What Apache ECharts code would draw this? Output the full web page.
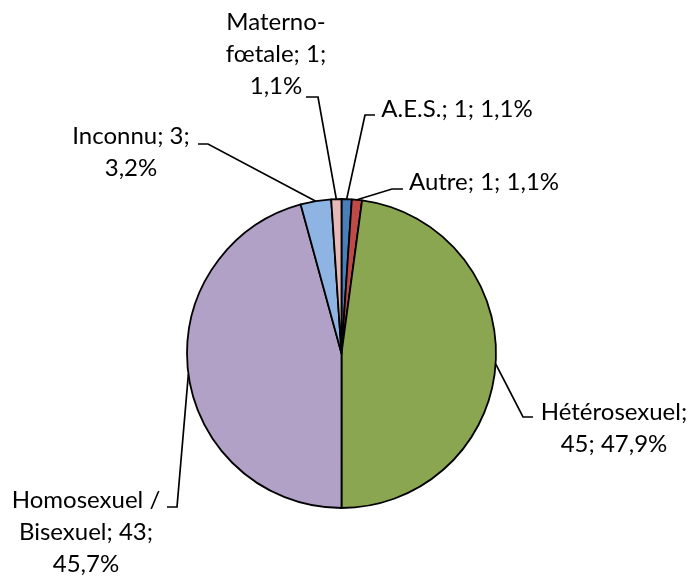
<!DOCTYPE html>
<html>
<head>
<meta charset="utf-8">
<script src="https://cdn.jsdelivr.net/npm/echarts@6/dist/echarts.min.js"></script>
<style>
html, body { margin: 0; padding: 0; background: #ffffff; }
#chart { width: 691px; height: 580px; }
</style>
</head>
<body>
<div id="chart"></div>
<script>
// ---- data ----
const categories = ['A.E.S.', 'Autre', 'Hétérosexuel', 'Homosexuel / Bisexuel', 'Inconnu', 'Materno-fœtale'];
const values = [1, 1, 45, 43, 3, 1];

// ---- style ----
const colors = ['#4A7EBB', '#BE4B48', '#8AA650', '#B2A1C7', '#8EB4E3', '#E6B9B8'];
// where the label text wraps
const labelWraps = [
  { nameBreak: null, afterName: false, afterValue: false },
  { nameBreak: null, afterName: false, afterValue: false },
  { nameBreak: null, afterName: true,  afterValue: false },
  { nameBreak: ' / ', afterName: false, afterValue: true },
  { nameBreak: null, afterName: false, afterValue: true },
  { nameBreak: '-', afterName: false, afterValue: true }
];
// label placement (centre of the text block) and leader-line elbow / end
const labelSpec = [
  { x: 457, y: 109,   elbow: [365, 115], end: [375, 115] },
  { x: 484, y: 182.5, elbow: [392, 189], end: [403, 189] },
  { x: 614, y: 428.5, elbow: [523, 417], end: [533, 417] },
  { x: 86,  y: 532.5, elbow: [177, 507], end: [167, 507] },
  { x: 131, y: 152.5, elbow: [208, 144], end: [198, 144] },
  { x: 276, y: 54,    elbow: [318, 97],  end: [306, 97] }
];
const pieCenter = [341.5, 353.5];
const pieRadius = 154.5;

const total = values.reduce((a, b) => a + b, 0);

function formatLabel(p) {
  const w = labelWraps[p.dataIndex];
  let name = p.name;
  if (w.nameBreak) {
    const tok = w.nameBreak;
    const idx = name.indexOf(tok);
    if (idx >= 0) {
      const keep = tok.trimEnd();
      name = name.slice(0, idx) + keep + '\n' + name.slice(idx + tok.length);
    }
  }
  const pct = (p.value / total * 100).toFixed(1).replace('.', ',') + '%';
  return name + ';' + (w.afterName ? '\n' : ' ') + p.value + ';' + (w.afterValue ? '\n' : ' ') + pct;
}

function edgePoint(i) {
  let cum = 0;
  for (let k = 0; k < i; k++) cum += values[k];
  const mid = (cum + values[i] / 2) / total * Math.PI * 2;
  return [pieCenter[0] + pieRadius * Math.sin(mid), pieCenter[1] - pieRadius * Math.cos(mid)];
}

const chart = echarts.init(document.getElementById('chart'), null, { renderer: 'canvas' });
chart.setOption({
  backgroundColor: '#ffffff',
  animation: false,
  series: [{
    type: 'pie',
    center: pieCenter,
    radius: pieRadius,
    startAngle: 90,
    clockwise: true,
    avoidLabelOverlap: false,
    percentPrecision: 1,
    emphasis: { disabled: true },
    itemStyle: { borderColor: '#000000', borderWidth: 1.8 },
    label: {
      show: true,
      position: 'outside',
      formatter: formatLabel,
      color: '#000000',
      fontFamily: 'Lato',
      fontSize: 24,
      lineHeight: 32,
      align: 'center'
    },
    labelLine: {
      show: true,
      smooth: false,
      lineStyle: { color: '#000000', width: 1.7 }
    },
    labelLayout: function (p) {
      const s = labelSpec[p.dataIndex];
      const start = (p.labelLinePoints && p.labelLinePoints[0]) ? p.labelLinePoints[0] : edgePoint(p.dataIndex);
      return {
        x: s.x,
        y: s.y,
        align: 'center',
        verticalAlign: 'middle',
        labelLinePoints: [start, s.elbow, s.end]
      };
    },
    data: categories.map((c, i) => ({ name: c, value: values[i], itemStyle: { color: colors[i] } }))
  }]
});
</script>
</body>
</html>
